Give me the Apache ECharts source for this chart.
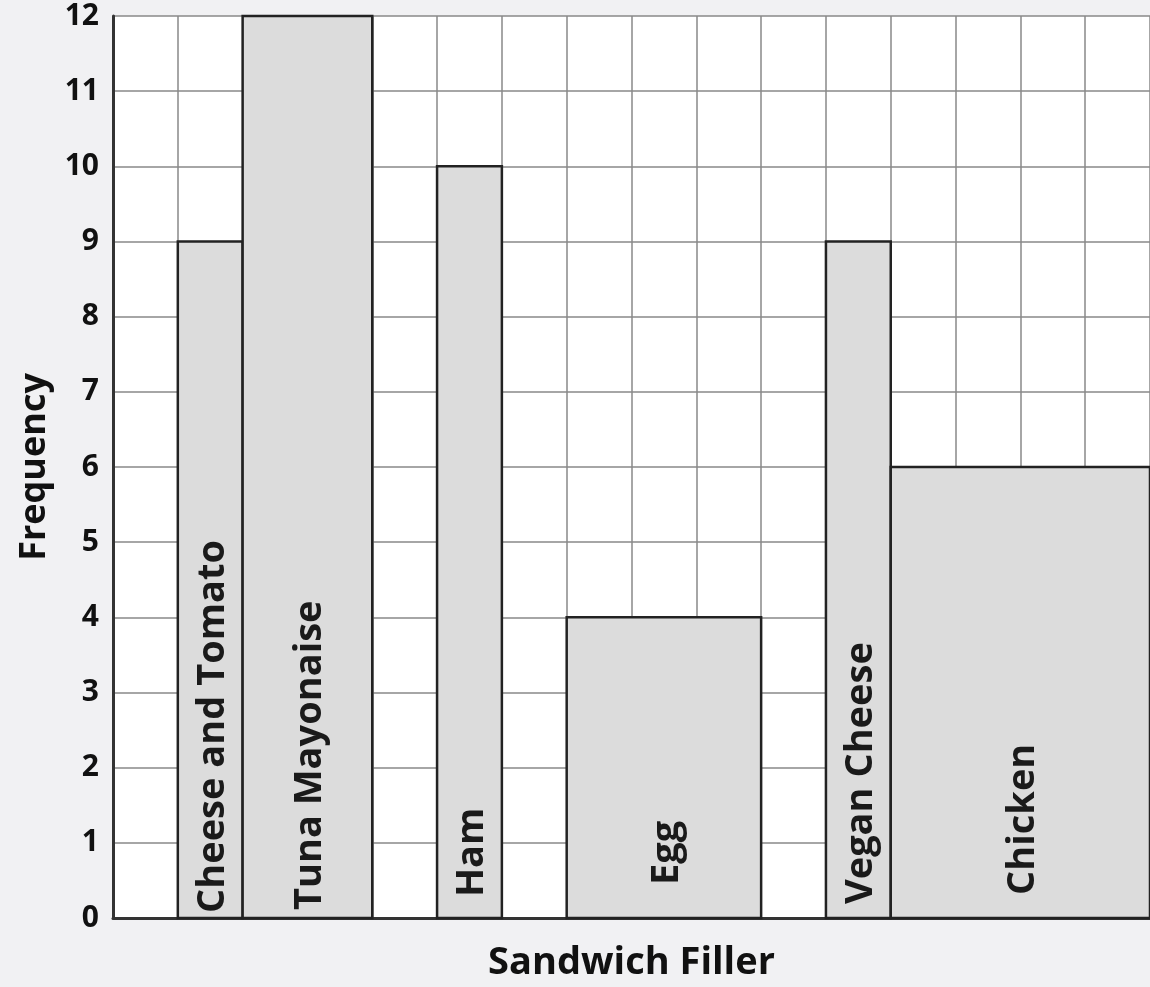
<!DOCTYPE html>
<html>
<head>
<meta charset="utf-8">
<script src="https://cdn.jsdelivr.net/npm/echarts@6/dist/echarts.min.js"></script>
<style>
html,body{margin:0;padding:0;background:#f1f1f3;}
#chart{width:1150px;height:987px;}
</style>
</head>
<body>
<div id="chart"></div>
<script>
var categories = ['Cheese and Tomato', 'Tuna Mayonaise', 'Ham', 'Egg', 'Vegan Cheese', 'Chicken'];
var barStart = [1, 2, 5, 7, 11, 12];
var barEnd = [2, 4, 6, 10, 12, 16];
var frequency = [9, 12, 10, 4, 9, 6];
var yTicks = [0, 1, 2, 3, 4, 5, 6, 7, 8, 9, 10, 11, 12];

// label style: distance (px) of each rotated label's start above the baseline
var labelLift = [5, 8, 21, 33, 14, 23];

var data = categories.map(function (c, i) {
  return [barStart[i], barEnd[i], frequency[i], c];
});

var chart = echarts.init(document.getElementById('chart'));
chart.setOption({
  backgroundColor: '#f1f1f3',
  animation: false,
  textStyle: { fontFamily: 'Open Sans' },
  grid: { left: 113, right: 0, top: 16, bottom: 64, show: true, backgroundColor: '#ffffff', borderWidth: 0 },
  xAxis: {
    type: 'value', min: 0, max: 16, interval: 1,
    name: 'Sandwich Filler', nameLocation: 'middle', nameGap: 26,
    nameTextStyle: { fontSize: 38, fontWeight: 'bold', color: '#111', fontFamily: 'Open Sans' },
    axisLabel: { show: false },
    axisTick: { show: false },
    axisLine: { show: true, lineStyle: { color: '#333', width: 3 } },
    splitLine: { show: true, lineStyle: { color: '#888', width: 1.5 } }
  },
  yAxis: {
    type: 'value', min: 0, max: 12, interval: 1,
    name: 'Frequency', nameLocation: 'middle', nameGap: 60,
    nameTextStyle: { fontSize: 36, fontWeight: 'bold', color: '#111', fontFamily: 'Open Sans' },
    axisLabel: { fontSize: 30, fontWeight: 'bold', color: '#111', margin: 14,
      formatter: function (v) { return yTicks.indexOf(v) >= 0 ? String(v) : ''; } },
    axisTick: { show: false },
    axisLine: { show: true, lineStyle: { color: '#333', width: 3 } },
    splitLine: { show: true, lineStyle: { color: '#888', width: 1.5 } }
  },
  series: [{
    type: 'custom',
    data: data,
    encode: { x: [0, 1], y: 2 },
    renderItem: function (params, api) {
      var x0 = api.value(0), x1 = api.value(1), v = api.value(2);
      var p0 = api.coord([x0, v]);
      var p1 = api.coord([x1, 0]);
      var name = categories[params.dataIndex];
      var cx = (p0[0] + p1[0]) / 2;
      return {
        type: 'group',
        children: [{
          type: 'rect',
          shape: { x: p0[0], y: p0[1], width: p1[0] - p0[0], height: p1[1] - p0[1] },
          style: { fill: '#dcdcdc', stroke: '#222', lineWidth: 2.5 }
        }, {
          type: 'text',
          x: cx + 3, y: p1[1] - labelLift[params.dataIndex],
          rotation: Math.PI / 2,
          style: {
            text: name, fill: '#1a1a1a', fontSize: 38, fontWeight: 'bold', fontFamily: 'Open Sans',
            align: 'left', verticalAlign: 'middle'
          }
        }]
      };
    }
  }]
});
</script>
</body>
</html>
